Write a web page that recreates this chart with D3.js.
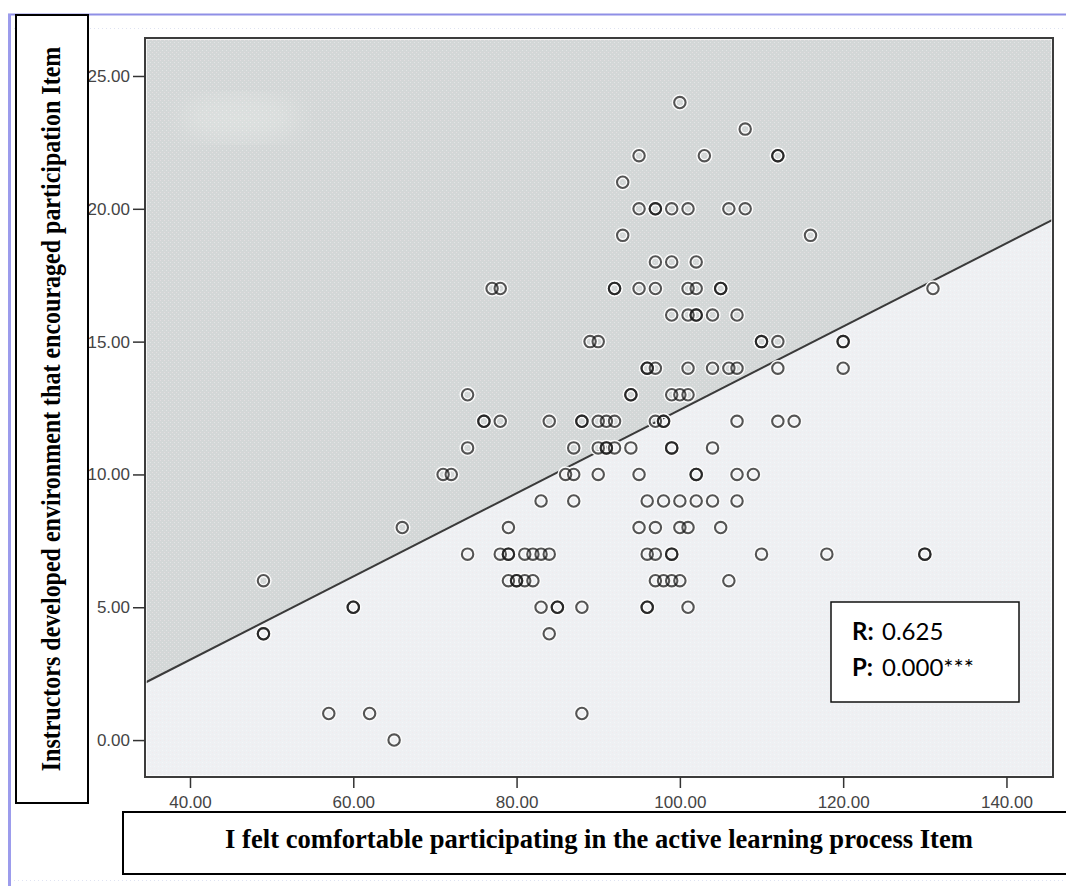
<!DOCTYPE html>
<html>
<head>
<meta charset="utf-8">
<script src="https://cdn.jsdelivr.net/npm/d3@7"></script>
<style>
  html, body { margin: 0; padding: 0; background: #fff; overflow: hidden; }
</style>
</head>
<body>
<div class="canvas"></div>
<script>
"use strict";

// y value of each row of points, and the x values sitting on that row
const envLevels = [0, 1, 4, 5, 6, 7, 8, 9, 10, 11, 12, 13, 14, 15, 16, 17, 18, 19, 20, 21, 22, 23, 24];
const comfortByLevel = [
  [65],
  [57, 62, 88],
  [49, 49, 84],
  [60, 60, 83, 85, 85, 88, 96, 96, 101],
  [49, 79, 80, 80, 81, 82, 97, 98, 99, 100, 106],
  [74, 78, 79, 79, 81, 82, 83, 84, 96, 97, 99, 99, 110, 118, 130, 130],
  [66, 79, 95, 97, 100, 101, 105],
  [83, 87, 96, 98, 100, 102, 104, 107],
  [71, 72, 86, 87, 90, 95, 102, 102, 107, 109],
  [74, 87, 90, 91, 91, 92, 94, 99, 99, 104],
  [76, 76, 78, 84, 88, 88, 90, 91, 92, 97, 98, 98, 107, 112, 114],
  [74, 94, 94, 99, 100, 101],
  [96, 96, 97, 101, 104, 106, 107, 112, 120],
  [89, 90, 110, 110, 112, 120, 120],
  [99, 101, 102, 102, 104, 107],
  [77, 78, 92, 92, 95, 97, 101, 102, 105, 105, 131],
  [97, 99, 102],
  [93, 116],
  [95, 97, 97, 99, 101, 106, 108],
  [93],
  [95, 103, 112, 112],
  [108],
  [100]
];
const xTicks = [40, 60, 80, 100, 120, 140];
const yTicks = [0, 5, 10, 15, 20, 25];
const fitIntercept = -3.25;
const fitSlope = 0.1568;
const xTitle = "I felt comfortable participating in the active learning process Item";
const yTitle = "Instructors developed environment that encouraged participation Item";
const statR = "0.625";
const statP = "0.000***";

const points = envLevels.flatMap((lv, i) => comfortByLevel[i].map((c) => ({ x: c, y: lv })));

const width = 1066;
const height = 886;
const plot = { left: 145, top: 38, right: 1053, bottom: 777 };

const svg = d3
  .select(".canvas")
  .append("svg")
  .attr("width", width)
  .attr("height", height)
  .style("display", "block")
  .style("background-color", "#fff");

const defs = svg.append("defs");
// faint speckle like the scanned original
const speckle = defs.append("pattern")
  .attr("id", "speckle")
  .attr("width", 4).attr("height", 4)
  .attr("patternUnits", "userSpaceOnUse");
speckle.append("rect").attr("x", 0).attr("y", 0).attr("width", 1).attr("height", 1)
  .attr("fill", "#f4e6ea").attr("opacity", 0.5);
speckle.append("rect").attr("x", 2).attr("y", 2).attr("width", 1).attr("height", 1)
  .attr("fill", "#ffffff").attr("opacity", 0.35);
defs.append("filter").attr("id", "blur")
  .append("feGaussianBlur").attr("stdDeviation", 12);

const x = d3.scaleLinear().domain([34.49, 145.7]).range([plot.left, plot.right]);
const y = d3.scaleLinear().domain([-1.39, 26.43]).range([plot.bottom, plot.top]);
const fmt = d3.format(".2f");

// page frame (blue border of the screenshot + faint dotted guides)
const frame = svg.append("g");
frame.append("line").attr("x1", 8).attr("x2", width).attr("y1", 14.5).attr("y2", 14.5)
  .attr("stroke", "#8f8fe6").attr("stroke-width", 2);
frame.append("line").attr("x1", 9.5).attr("x2", 9.5).attr("y1", 14).attr("y2", height)
  .attr("stroke", "#9c9cec").attr("stroke-width", 3);
frame.append("line").attr("x1", 14).attr("x2", width).attr("y1", 28.5).attr("y2", 28.5)
  .attr("stroke", "#dfe3f2").attr("stroke-dasharray", "1,3");
frame.append("line").attr("x1", 14).attr("x2", width).attr("y1", 880.5).attr("y2", 880.5)
  .attr("stroke", "#dfe3f2").attr("stroke-dasharray", "1,3");

// plot background: light below the fit line, grey above it
const bg = svg.append("g");
bg.append("rect")
  .attr("x", plot.left).attr("y", plot.top)
  .attr("width", plot.right - plot.left).attr("height", plot.bottom - plot.top)
  .attr("fill", "#eef0f3");

const [x0, x1] = x.domain();
const fit = (v) => fitIntercept + fitSlope * v;
const upperPts = [
  [x(x0), y(y.domain()[1])],
  [x(x1), y(y.domain()[1])],
  [x(x1), y(fit(x1))],
  [x(x0), y(fit(x0))]
].map((p) => p.join(",")).join(" ");
bg.append("polygon").attr("points", upperPts).attr("fill", "#d3d7d7");
// pale smudge near the top-left corner
bg.append("ellipse")
  .attr("cx", 240).attr("cy", 118).attr("rx", 60).attr("ry", 22)
  .attr("fill", "#e2e6e4").attr("opacity", 0.6).attr("filter", "url(#blur)");
bg.append("rect")
  .attr("x", plot.left).attr("y", plot.top)
  .attr("width", plot.right - plot.left).attr("height", plot.bottom - plot.top)
  .attr("fill", "url(#speckle)");

bg.append("path")
  .datum([x0, x1])
  .attr("d", d3.line().x((d) => x(d)).y((d) => y(fit(d))))
  .attr("fill", "none")
  .attr("stroke", "#3a3a3a")
  .attr("stroke-width", 2);

// points: white halo first, then the rings
const dots = svg.append("g");
dots.selectAll("circle.halo")
  .data(points)
  .join("circle")
  .attr("class", "halo")
  .attr("cx", (d) => x(d.x))
  .attr("cy", (d) => y(d.y))
  .attr("r", 5.7)
  .attr("fill", "none")
  .attr("stroke", "#fbfbfb")
  .attr("stroke-width", 5);
dots.selectAll("circle.dot")
  .data(points)
  .join("circle")
  .attr("class", "dot")
  .attr("cx", (d) => x(d.x))
  .attr("cy", (d) => y(d.y))
  .attr("r", 5.7)
  .attr("fill", "none")
  .attr("stroke", "#1a1a1a")
  .attr("stroke-opacity", 0.74)
  .attr("stroke-width", 2.1);

// plot border
svg.append("rect")
  .attr("x", plot.left + 1.5).attr("y", plot.top + 1.5)
  .attr("width", plot.right - plot.left - 3).attr("height", plot.bottom - plot.top - 3)
  .attr("fill", "none").attr("stroke", "#ffffff").attr("stroke-opacity", 0.7);
svg.append("rect")
  .attr("x", plot.left).attr("y", plot.top)
  .attr("width", plot.right - plot.left).attr("height", plot.bottom - plot.top)
  .attr("fill", "none").attr("stroke", "#3c3c3c").attr("stroke-width", 2);

// axes
function styleAxis(g) {
  g.select(".domain").remove();
  g.selectAll("line").attr("stroke", "#333").attr("stroke-width", 1.5);
  g.selectAll("text")
    .attr("fill", "#444")
    .style("font-family", "'Liberation Sans', Arial, sans-serif")
    .style("font-size", "17px");
}
svg.append("g")
  .attr("transform", `translate(${plot.left},0)`)
  .call(d3.axisLeft(y).tickValues(yTicks).tickFormat(fmt).tickSize(12).tickPadding(3))
  .call(styleAxis);
svg.append("g")
  .attr("transform", `translate(0,${plot.bottom})`)
  .call(d3.axisBottom(x).tickValues(xTicks).tickFormat(fmt).tickSize(11).tickPadding(8))
  .call(styleAxis);

// axis title boxes
const titles = svg.append("g");

// squeeze a title horizontally to the length seen in the reference
function squeezedTitle(str, cx, cy, angle, targetLen, size) {
  const t = titles.append("text")
    .attr("text-anchor", "middle")
    .style("font-family", "'Liberation Serif', 'Times New Roman', serif")
    .style("font-weight", "bold")
    .style("font-size", size + "px")
    .text(str);
  const natural = t.node().getComputedTextLength();
  const sx = Math.min(1, targetLen / natural);
  t.attr("transform", `translate(${cx},${cy}) rotate(${angle}) scale(${sx},1)`);
  return t;
}

titles.append("rect")
  .attr("x", 16).attr("y", 15).attr("width", 72).attr("height", 788)
  .attr("fill", "#fff").attr("stroke", "#000").attr("stroke-width", 2);
squeezedTitle(yTitle, 60, 409, -90, 725, 27);

titles.append("rect")
  .attr("x", 123).attr("y", 812).attr("width", 960).attr("height", 62)
  .attr("fill", "#fff").attr("stroke", "#000").attr("stroke-width", 2);
squeezedTitle(xTitle, 599, 848, 0, 748, 27);

// correlation box
const stat = svg.append("g");
stat.append("rect")
  .attr("x", 831).attr("y", 602).attr("width", 188).attr("height", 100)
  .attr("fill", "#fff").attr("stroke", "#111").attr("stroke-width", 1.5);
const statRows = [["R:", statR, 640], ["P:", statP, 676]];
statRows.forEach(([k, v, by]) => {
  const t = stat.append("text")
    .attr("y", by)
    .style("font-family", "Lato, 'Open Sans', sans-serif")
    .style("font-size", "24px")
    .attr("fill", "#000");
  t.append("tspan").attr("x", 852).style("font-weight", "bold").text(k);
  t.append("tspan").attr("x", 882).text(v);
});
</script>
</body>
</html>
